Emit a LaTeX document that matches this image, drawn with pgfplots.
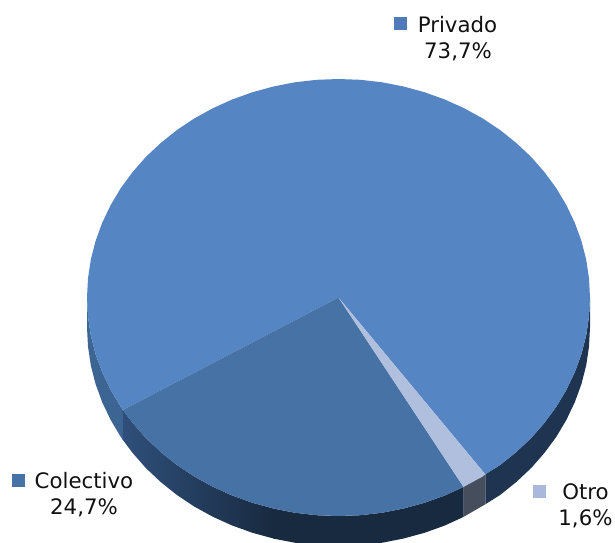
\documentclass[border=0pt]{standalone}
\usepackage{fontspec}
\setmainfont{DejaVu Sans}
\usepackage{pgfplots}
\pgfplotsset{compat=1.18}

\definecolor{privado}{RGB}{85,133,194}
\definecolor{colectivo}{RGB}{70,114,165}
\definecolor{otro}{RGB}{176,191,222}
\definecolor{keyprivado}{RGB}{79,124,184}
\definecolor{keyotro}{RGB}{170,185,219}
\definecolor{privadoL}{RGB}{61,101,148}
\definecolor{privadoR}{RGB}{30,52,80}
\definecolor{colectivoL}{RGB}{47,79,122}
\definecolor{colectivoR}{RGB}{24,42,64}
\definecolor{otroS}{RGB}{70,77,92}
\definecolor{textcol}{RGB}{17,17,17}

\begin{document}
\begin{tikzpicture}
\begin{axis}[
    scale only axis,
    width=615pt, height=542pt,
    xmin=0, xmax=615,
    ymin=0, ymax=542,
    y dir=reverse,
    axis lines=none,
    nodes={font=\fontsize{21.3}{24}\selectfont, text=textcol, inner sep=0pt, outer sep=0pt},
]
% keep the whole frame as the page
\path (rel axis cs:0,0) rectangle (rel axis cs:1,1);
% side walls (pixel coordinates of the reference, y downwards)
\addplot[draw=none, fill=privadoL] coordinates {
  (122.9,410) (120.7,406.8) (110.6,389.8) (102.2,372.2) (95.6,354.1) (90.8,335.4) (88,316.6) (87,297.5)
  (87,327.5) (88,346.6) (90.8,365.4) (95.6,384.1) (102.2,402.2) (110.6,419.8) (120.7,436.8) (122.9,440)
} -- cycle;
\addplot[draw=none, fill=privadoR] coordinates {
  (590,297.5) (589,316.6) (586.2,335.4) (581.4,354.1) (574.8,372.2) (566.4,389.8) (556.3,406.8) (544.5,422.8)
  (531.2,438) (516.3,452) (500.2,464.9) (485.3,474.3)
  (485.3,504.3) (500.2,494.9) (516.3,482) (531.2,468) (544.5,452.8) (556.3,436.8) (566.4,419.8) (574.8,402.2)
  (581.4,384.1) (586.2,365.4) (589,346.6) (590,327.5)
} -- cycle;
\addplot[draw=none, fill=otroS] coordinates {
  (485.3,474.3) (463.5,486.9) (463.5,516.9) (485.3,504.3)
} -- cycle;
\addplot[draw=none, fill=colectivoR] coordinates {
  (463.5,486.9) (444.8,495.5) (424.5,502.8) (403.6,508.5) (382.2,512.7) (360.4,515.2) (338.5,516) (316.6,515.2)
  (294.8,512.7) (273,508.5)
  (273,538.5) (294.8,542.7) (316.6,545.2) (338.5,546) (360.4,545.2) (382.2,542.7) (403.6,538.5) (424.5,532.8)
  (444.8,525.5) (463.5,516.9)
} -- cycle;
\addplot[draw=none, left color=colectivoL, right color=colectivoR] coordinates {
  (273.4,508.5) (252.5,502.8) (232.2,495.5) (212.7,486.7) (194.2,476.5) (176.8,464.9) (160.7,452) (145.8,438)
  (132.5,422.8) (122.9,410)
  (122.9,440) (132.5,452.8) (145.8,468) (160.7,482) (176.8,494.9) (194.2,506.5) (212.7,516.7) (232.2,525.5)
  (252.5,532.8) (273.4,538.5)
} -- cycle;
% top slices
\addplot[draw=none, fill=privado] coordinates {
  (338.5,297.5) (122.9,410) (120.7,406.8) (110.6,389.8) (102.2,372.2) (95.6,354.1) (90.8,335.4) (88,316.6) (87,297.5)
  (88,278.4) (90.8,259.6) (95.6,240.9) (102.2,222.8) (110.6,205.2) (120.7,188.2) (132.5,172.2) (145.8,157)
  (160.7,143) (176.8,130.1) (194.2,118.5) (212.7,108.3) (232.2,99.5) (252.5,92.2) (273.4,86.5) (294.8,82.3)
  (316.6,79.8) (338.5,79) (360.4,79.8) (382.2,82.3) (403.6,86.5) (424.5,92.2) (444.8,99.5) (464.3,108.3)
  (482.8,118.5) (500.2,130.1) (516.3,143) (531.2,157) (544.5,172.2) (556.3,188.2) (566.4,205.2) (574.8,222.8)
  (581.4,240.9) (586.2,259.6) (589,278.4) (590,297.5) (589,316.6) (586.2,335.4) (581.4,354.1) (574.8,372.2)
  (566.4,389.8) (556.3,406.8) (544.5,422.8) (531.2,438) (516.3,452) (500.2,464.9) (485.3,474.3)
} -- cycle;
\addplot[draw=none, fill=colectivo] coordinates {
  (338.5,297.5) (463.5,486.9) (444.8,495.5) (424.5,502.8) (403.6,508.5) (382.2,512.7) (360.4,515.2) (338.5,516)
  (316.6,515.2) (294.8,512.7) (273.4,508.5) (252.5,502.8) (232.2,495.5) (212.7,486.7) (194.2,476.5) (176.8,464.9)
  (160.7,452) (145.8,438) (132.5,422.8) (122.9,410)
} -- cycle;
\addplot[draw=none, fill=otro] coordinates {
  (338.5,297.5) (485.3,474.3) (482.8,476.5) (463.5,486.9)
} -- cycle;
% legend keys
\addplot[only marks, mark=square*, mark size=5.7pt, mark options={draw=keyprivado, fill=keyprivado}] coordinates {(400,23)};
\addplot[only marks, mark=square*, mark size=5.7pt, mark options={draw=colectivo, fill=colectivo}] coordinates {(18,480)};
\addplot[only marks, mark=square*, mark size=5.7pt, mark options={draw=keyotro, fill=keyotro}] coordinates {(539,491)};
% labels
\node[anchor=base] at (axis cs:457.5,32) {Privado};
\node[anchor=base] at (axis cs:458,58) {73,7\%};
\node[anchor=base] at (axis cs:84,488) {Colectivo};
\node[anchor=base] at (axis cs:84,514) {24,7\%};
\node[anchor=base] at (axis cs:585.5,499) {Otro};
\node[anchor=base] at (axis cs:585.5,525) {1,6\%};
\end{axis}
\end{tikzpicture}
\end{document}
